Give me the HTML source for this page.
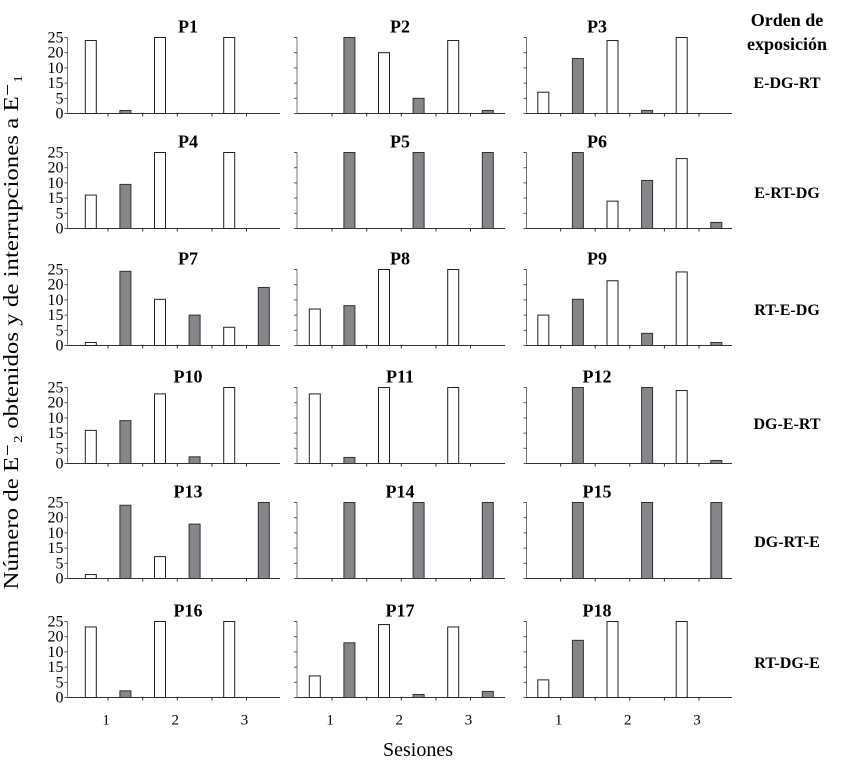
<!DOCTYPE html>
<html><head><meta charset="utf-8"><style>
html,body{margin:0;padding:0;background:#fff;}
svg{display:block;font-family:"Liberation Serif",serif;}
</style></head><body>
<svg id="chart" width="862" height="768" viewBox="0 0 862 768" xmlns="http://www.w3.org/2000/svg">
<text transform="translate(18,332) rotate(-90)" text-anchor="middle" font-size="21" textLength="515" lengthAdjust="spacingAndGlyphs">Número de E⁻₂ obtenidos y de interrupciones a E⁻₁</text>
<text x="418" y="756" text-anchor="middle" font-size="20">Sesiones</text>
<text x="787" y="26" text-anchor="middle" font-size="18" font-weight="bold">Orden de</text>
<text x="787" y="50" text-anchor="middle" font-size="18" font-weight="bold">exposición</text>
</svg>
<script>
const panelTitles = ["P1","P2","P3","P4","P5","P6","P7","P8","P9","P10","P11","P12","P13","P14","P15","P16","P17","P18"];
const whiteValues = [
 [24,25,25],[0,20,24],[7,24,25],
 [11,25,25],[0,0,0],[0,9,23],
 [1,15.2,6],[12,25,25],[10,21.3,24.2],
 [10.9,22.9,25],[22.9,25,25],[0,0,24],
 [1.3,7.2,0],[0,0,0],[0,0,0],
 [23.2,25,25],[7.1,24,23.2],[5.8,25,25]];
const grayValues = [
 [1,0,0],[25,5,1],[18.1,1,0],
 [14.5,0,0],[25,25,25],[25,15.8,2],
 [24.4,10,19.1],[13.1,0,0],[15.2,4,1],
 [14.1,2.2,0],[2,0,0],[25,25,1],
 [24.1,17.9,25],[25,25,25],[25,25,25],
 [2.2,0,0],[18,1,2],[18.8,0,0]];
const yTickValues = [0,5,10,15,20,25];
const yTickLabels = ["0","5","15","10","20","25"];
const sessionLabels = ["1","2","3"];
const orderLabels = ["E-DG-RT","E-RT-DG","RT-E-DG","DG-E-RT","DG-RT-E","RT-DG-E"];
const yMax = 25;

const NS="http://www.w3.org/2000/svg";
const svg=document.getElementById('chart');
const rowTops=[37.5,152.5,269.5,387.5,502.5,621.5];
const plotH=76;
const colAxisX=[67.5,297,526.5];
const colSlot0=[73.5,297.5,526];
const colEnd=[280,505,732];
const slotW=34.6;
const titleX=[188,400,597];
const barW=11;
function mk(tag,attrs){const e=document.createElementNS(NS,tag);for(const k in attrs)e.setAttribute(k,attrs[k]);svg.appendChild(e);return e;}
function yScale(v,top){return top+plotH-(v/yMax)*plotH;}

for(let p=0;p<panelTitles.length;p++){
  const r=Math.floor(p/3), c=p%3;
  const top=rowTops[r], base=top+plotH;
  const t=mk('text',{x:titleX[c],y:top-5,'text-anchor':'middle','font-size':'18','font-weight':'bold'});
  t.textContent=panelTitles[p];
  
  
  const ya=mk('line',{x1:colAxisX[c],y1:top,x2:colAxisX[c],y2:base,stroke:'#777','stroke-width':'1'});
  
  
  yTickValues.forEach((v,i)=>{
    const y=yScale(v,top);
    const tk=mk('line',{x1:colAxisX[c]-3,y1:y,x2:colAxisX[c],y2:y,stroke:'#555','stroke-width':'1'});
    
    
    if(c===0){
      const tl=mk('text',{x:colAxisX[c]-4,y:y+5,'text-anchor':'end','font-size':'16'});
      tl.textContent=yTickLabels[i];
      
      
    }
  });
  const xa=mk('line',{x1:colAxisX[c],y1:base,x2:colEnd[c],y2:base,stroke:'#333','stroke-width':'1'});
  
  
  for(let k=1;k<6;k++){
    const x=colSlot0[c]+k*slotW;
    const xt=mk('line',{x1:x,y1:base,x2:x,y2:base+3,stroke:'#333','stroke-width':'1'});
    
    
  }
  for(let s=0;s<3;s++){
    const vals=[whiteValues[p][s],grayValues[p][s]];
    vals.forEach((v,j)=>{
      if(v<=0)return;
      const slot=s*2+j;
      const cx=colSlot0[c]+slot*slotW+slotW/2;
      const y=yScale(v,top);
      const b=mk('rect',{x:cx-barW/2,y:y,width:barW,height:base-y,fill:j===0?'#fff':'#85868a',stroke:j===0?'#222':'#333','stroke-width':'1'});
      
      
    });
  }
  if(r===5){
    sessionLabels.forEach((lab,s)=>{
      const x=colSlot0[c]+(s*2+1)*slotW-2;
      const sl=mk('text',{x:x,y:base+27,'text-anchor':'middle','font-size':'15'});
      sl.textContent=lab;
      
      
    });
  }
}
orderLabels.forEach((lab,r)=>{
  const ys=[88,198,315,429,547,668];
  const t=mk('text',{x:787,y:ys[r],'text-anchor':'middle','font-size':'16','font-weight':'bold'});
  t.textContent=lab;
  
  
});
</script>
</body></html>
